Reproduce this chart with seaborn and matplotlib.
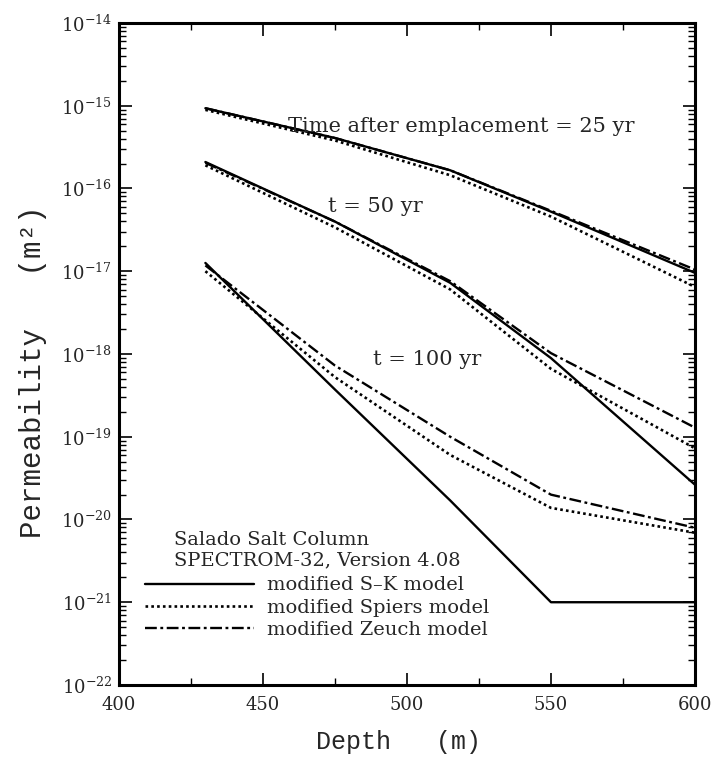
import numpy as np
import pandas as pd
import seaborn as sns
import matplotlib.pyplot as plt
from matplotlib.lines import Line2D
from matplotlib.ticker import LogLocator, MultipleLocator, NullFormatter

# ---- data (log10 of permeability, m^2) ----
depth = [430, 475, 515, 550, 600]
times = ["25 yr", "50 yr", "100 yr"]
models = ["modified S\u2013K model", "modified Spiers model", "modified Zeuch model"]

sk_25 = [-15.03, -15.39, -15.78, -16.28, -17.02]
spiers_25 = [-15.05, -15.42, -15.84, -16.34, -17.19]
zeuch_25 = [-15.03, -15.39, -15.78, -16.27, -16.98]

sk_50 = [-15.68, -16.40, -17.14, -18.05, -19.58]
spiers_50 = [-15.72, -16.47, -17.22, -18.18, -19.14]
zeuch_50 = [-15.69, -16.40, -17.12, -17.99, -18.89]

sk_100 = [-16.90, -18.43, -19.77, -21.00, -21.00]
spiers_100 = [-17.00, -18.28, -19.22, -19.86, -20.16]
zeuch_100 = [-16.93, -18.14, -19.00, -19.70, -20.10]

series = {
    ("25 yr", models[0]): sk_25, ("25 yr", models[1]): spiers_25, ("25 yr", models[2]): zeuch_25,
    ("50 yr", models[0]): sk_50, ("50 yr", models[1]): spiers_50, ("50 yr", models[2]): zeuch_50,
    ("100 yr", models[0]): sk_100, ("100 yr", models[1]): spiers_100, ("100 yr", models[2]): zeuch_100,
}

rows = []
for (t, m), vals in series.items():
    for d, v in zip(depth, vals):
        rows.append({"Depth": d, "Permeability": 10.0 ** v, "Time": t, "Model": m})
df = pd.DataFrame(rows)

sns.set_style("ticks")
plt.rcParams["font.family"] = ["DejaVu Serif"]
plt.rcParams["mathtext.fontset"] = "dejavuserif"

fig = plt.figure(figsize=(7.19, 7.61), dpi=100)
ax = fig.add_axes([0.1655, 0.0999, 0.8011, 0.8699])

dashes = {models[0]: "", models[1]: (1, 1.2), models[2]: (5, 1.5, 1.2, 1.5)}
lws = {models[0]: 1.7, models[1]: 1.9, models[2]: 1.7}
for m in models:
    sub = df[df["Model"] == m]
    sns.lineplot(data=sub, x="Depth", y="Permeability", units="Time", estimator=None,
                 color="black", lw=lws[m], ax=ax, legend=False, dashes=False)
    for ln in ax.get_lines()[-3:]:
        if dashes[m]:
            ln.set_dashes(dashes[m])

ax.set_yscale("log")
ax.set_xlim(400, 600)
ax.set_ylim(1e-22, 1e-14)
ax.xaxis.set_major_locator(MultipleLocator(50))
ax.xaxis.set_minor_locator(MultipleLocator(25))
ax.yaxis.set_major_locator(LogLocator(base=10, numticks=20))
ax.yaxis.set_minor_locator(LogLocator(base=10, subs=np.arange(2, 10), numticks=100))
ax.yaxis.set_minor_formatter(NullFormatter())
ax.tick_params(which="both", direction="in", top=True, right=True, labelsize=13, color="black")
ax.tick_params(which="major", length=9, width=1.2)
ax.tick_params(which="minor", length=5, width=1.0)
ax.tick_params(axis="x", which="major", pad=8)
ax.tick_params(axis="y", which="major", pad=5)
for s in ax.spines.values():
    s.set_linewidth(2.2)
    s.set_color("black")

ax.set_xlabel("Depth   (m)", fontsize=18, family=["Liberation Mono", "DejaVu Sans Mono"])
ax.set_ylabel("Permeability   (m\u00b2)", fontsize=21, family=["Liberation Mono", "DejaVu Sans Mono"])
ax.xaxis.label.set_va("center")
ax.yaxis.label.set_va("center")
ax.xaxis.set_label_coords(0.486, -0.086)
ax.yaxis.set_label_coords(-0.149, 0.473)

ax.text(518.75, 10 ** -15.245, "Time after emplacement = 25 yr", fontsize=15, ha="center", va="center")
ax.text(488.9, 10 ** -16.22, "t = 50 yr", fontsize=15, ha="center", va="center")
ax.text(507.0, 10 ** -18.07, "t = 100 yr", fontsize=15, ha="center", va="center")

handles = []
for m in models:
    h = Line2D([], [], color="black", lw=lws[m], linestyle="-")
    if dashes[m]:
        h.set_dashes(dashes[m])
    handles.append(h)
leg = ax.legend(handles, models, title="Salado Salt Column\nSPECTROM-32, Version 4.08",
                loc="upper left", bbox_to_anchor=(0.046, 0.233), frameon=False, fontsize=14,
                title_fontsize=14, handlelength=5.6, handletextpad=0.65, labelspacing=0.22,
                borderaxespad=0, borderpad=0)
leg._legend_box.sep = 5
fig.savefig("out.png", dpi=100)
